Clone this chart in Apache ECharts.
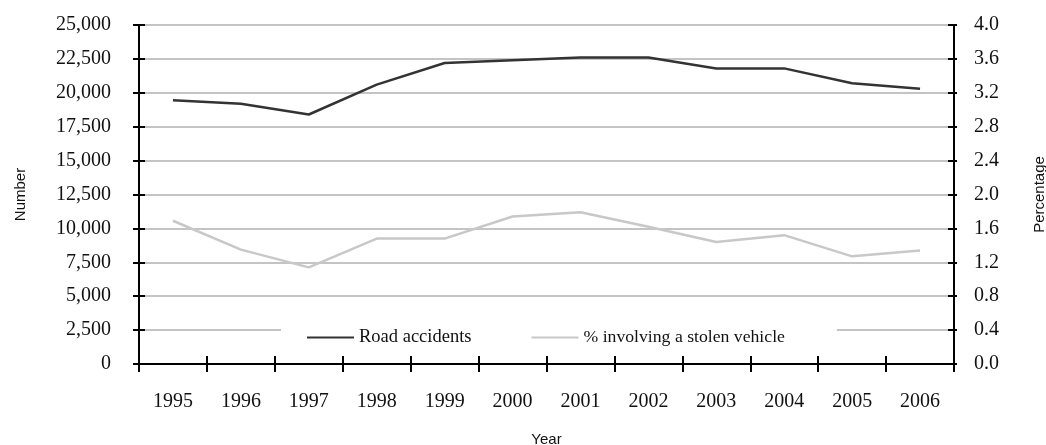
<!DOCTYPE html>
<html><head><meta charset="utf-8">
<script src="https://cdn.jsdelivr.net/npm/echarts@6/dist/echarts.min.js"></script>
<style>html,body{margin:0;padding:0;background:#fff}#c{width:1046px;height:445px}</style>
</head><body><div id="c"></div>
<script>
const years = ['1995','1996','1997','1998','1999','2000','2001','2002','2003','2004','2005','2006'];
const roadAccidents = [19450, 19200, 18400, 20600, 22200, 22400, 22600, 22600, 21800, 21800, 20700, 20300];
const pctStolen = [1.69, 1.35, 1.14, 1.48, 1.48, 1.74, 1.79, 1.62, 1.44, 1.52, 1.27, 1.34];
const leftTicks = {min: 0, max: 25000, interval: 2500};
const rightTicks = {min: 0, max: 4, interval: 0.4};

const serif = 'Liberation Serif';
const sans = 'Liberation Sans';
const chart = echarts.init(document.getElementById('c'), null, {renderer: 'canvas'});
const blackLine = {show: true, lineStyle: {color: '#000', width: 2}};
chart.setOption({
  animation: false,
  backgroundColor: '#fff',
  grid: {left: 139, right: 92, top: 25, bottom: 81, containLabel: false, outerBoundsMode: 'none'},
  legend: {
    data: [
      {name: 'Road accidents'},
      {name: '% involving a stolen vehicle', textStyle: {fontSize: 17.7}}
    ],
    left: 281, top: 324,
    backgroundColor: '#fff',
    padding: [4, 52, 4, 26],
    itemGap: 60,
    itemWidth: 47, itemHeight: 2,
    icon: 'rect',
    textStyle: {fontFamily: serif, fontSize: 18.5, color: '#111'}
  },
  xAxis: [{
    type: 'category', data: years, boundaryGap: true,
    axisLine: blackLine,
    axisTick: {show: true, interval: 0, length: 8, lineStyle: {color: '#000', width: 2}},
    axisLabel: {interval: 0, fontFamily: serif, fontSize: 20, color: '#111', margin: 28},
    name: 'Year', nameLocation: 'middle', nameGap: 68,
    nameTextStyle: {fontFamily: sans, fontSize: 15, color: '#111'}
  }, {
    type: 'category', data: years, boundaryGap: true, position: 'bottom',
    axisLine: {show: false},
    axisTick: {show: true, inside: true, interval: 0, length: 8, lineStyle: {color: '#000', width: 2}},
    axisLabel: {show: false}
  }],
  yAxis: [{
    type: 'value', position: 'left', ...leftTicks,
    axisLine: blackLine,
    axisTick: {show: true, length: 6, lineStyle: {color: '#000', width: 2}},
    axisLabel: {fontFamily: serif, fontSize: 20, color: '#111', margin: 28,
      formatter: v => v.toLocaleString('en-US')},
    splitLine: {show: true, lineStyle: {color: '#c4c4c4', width: 2}},
    name: 'Number', nameLocation: 'middle', nameGap: 111, nameRotate: 90,
    nameTextStyle: {fontFamily: sans, fontSize: 15, color: '#111'}
  }, {
    type: 'value', position: 'right', ...rightTicks,
    axisLine: blackLine,
    axisTick: {show: true, length: 3, lineStyle: {color: '#000', width: 2}},
    axisLabel: {fontFamily: serif, fontSize: 20, color: '#111', margin: 20,
      formatter: v => v.toFixed(1)},
    splitLine: {show: false},
    name: 'Percentage', nameLocation: 'middle', nameGap: 78, nameRotate: 90,
    nameTextStyle: {fontFamily: sans, fontSize: 15, color: '#111'}
  }, {
    type: 'value', position: 'left', ...leftTicks,
    axisLine: {show: false}, axisLabel: {show: false}, splitLine: {show: false},
    axisTick: {show: true, inside: true, length: 6, lineStyle: {color: '#000', width: 2}}
  }, {
    type: 'value', position: 'right', ...rightTicks,
    axisLine: {show: false}, axisLabel: {show: false}, splitLine: {show: false},
    axisTick: {show: true, inside: true, length: 6, lineStyle: {color: '#000', width: 2}}
  }],
  series: [{
    name: 'Road accidents', type: 'line', data: roadAccidents, yAxisIndex: 0,
    symbol: 'none', color: '#333', lineStyle: {color: '#333', width: 2.5}, z: 3
  }, {
    name: '% involving a stolen vehicle', type: 'line', data: pctStolen, yAxisIndex: 1,
    symbol: 'none', color: '#c8c8c8', lineStyle: {color: '#c8c8c8', width: 2.5}, z: 2
  }]
});
</script></body></html>
